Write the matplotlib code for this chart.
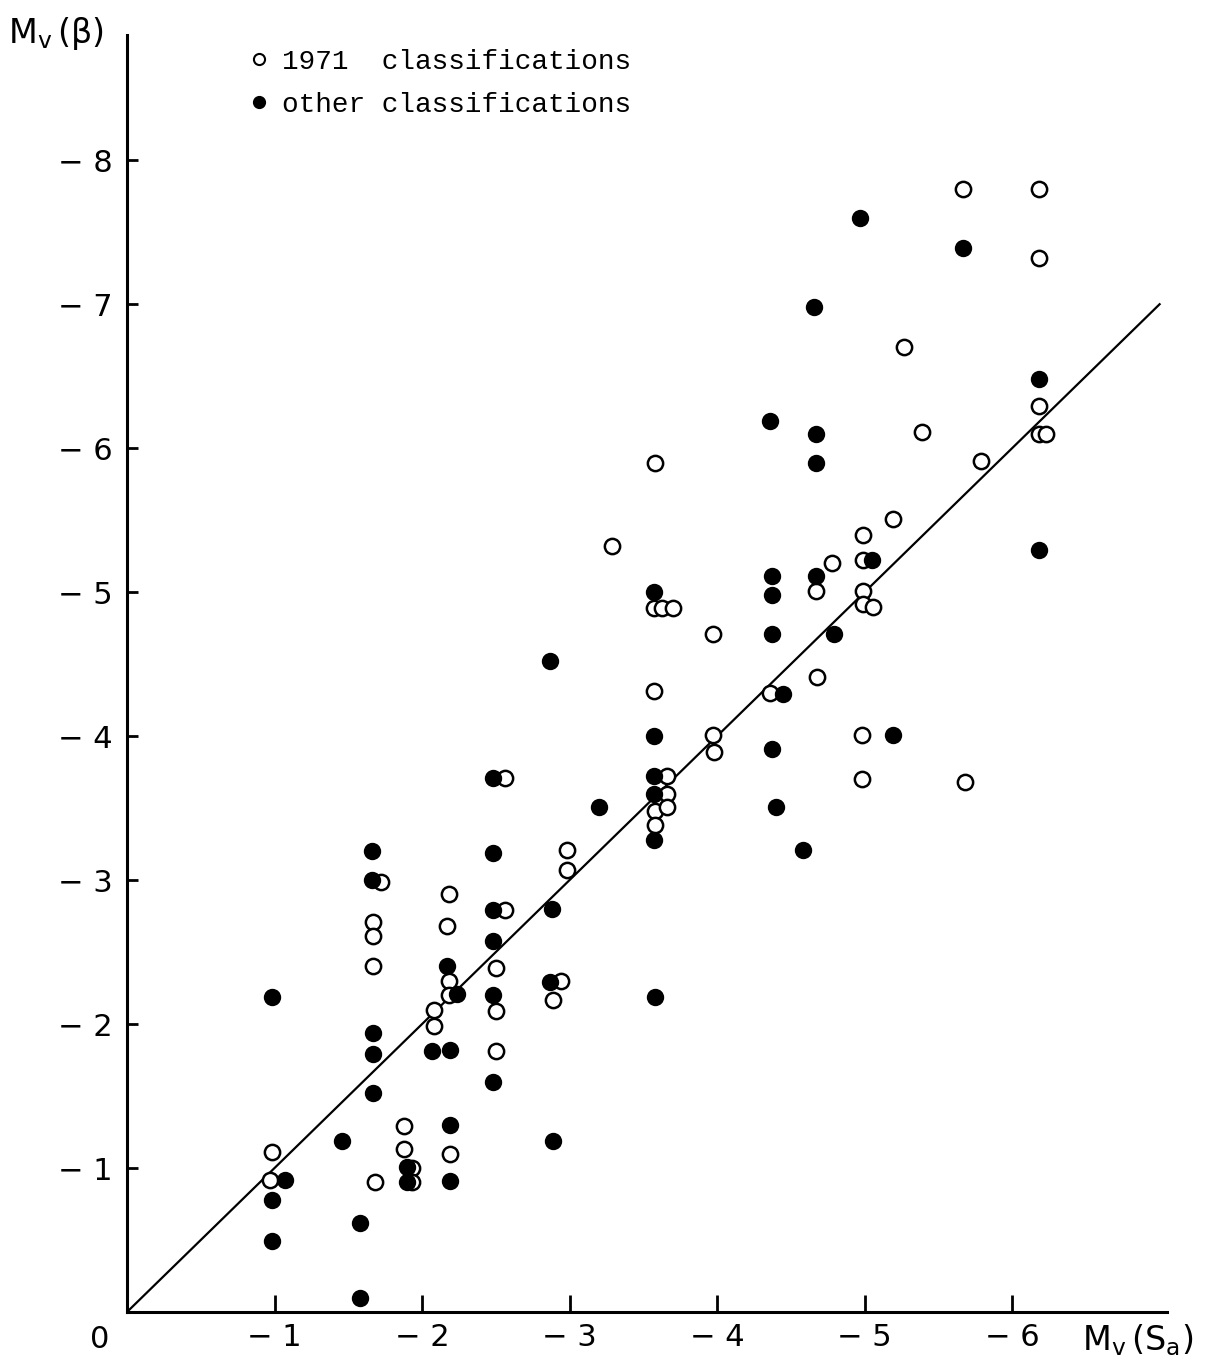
import matplotlib.pyplot as plt
from matplotlib.lines import Line2D

# M_v(S_a) vs M_v(beta)
open_x = [-0.98, -0.97, -1.68, -1.72, -1.67, -1.67, -1.67, -1.88, -1.88, -1.93,
          -1.93, -2.08, -2.08, -2.18, -2.18, -2.18, -2.17, -2.19, -2.56, -2.50,
          -2.50, -2.50, -2.98, -2.98, -2.94, -2.89, -2.56, -3.29, -3.57, -3.63,
          -3.70, -3.97, -3.57, -3.97, -3.98, -4.36, -3.66, -3.66, -3.58, -3.66,
          -3.58, -3.58, -5.67, -6.18, -6.18, -5.27, -6.18, -6.18, -6.23, -5.39,
          -5.79, -5.19, -4.99, -4.99, -4.78, -4.67, -4.99, -4.99, -5.06, -4.68,
          -4.98, -4.98, -5.68]
open_y = [-1.11, -0.92, -0.90, -2.99, -2.71, -2.61, -2.40, -1.29, -1.13, -1.00,
          -0.90, -2.10, -1.99, -2.30, -2.20, -2.90, -2.68, -1.10, -2.79, -2.39,
          -2.09, -1.81, -3.21, -3.07, -2.30, -2.17, -3.71, -5.32, -4.89, -4.89,
          -4.89, -4.71, -4.31, -4.01, -3.89, -4.30, -3.72, -3.60, -3.48, -3.51,
          -3.38, -5.90, -7.80, -7.80, -7.32, -6.70, -6.29, -6.10, -6.10, -6.11,
          -5.91, -5.51, -5.40, -5.22, -5.20, -5.01, -5.01, -4.92, -4.90, -4.41,
          -4.01, -3.70, -3.68]

filled_x = [-0.98, -1.07, -0.98, -0.98, -1.46, -1.58, -1.58, -1.66, -1.66, -1.67,
            -1.67, -1.67, -1.90, -1.90, -2.19, -2.19, -2.89, -2.07, -2.19, -2.17,
            -2.24, -2.48, -2.48, -2.48, -2.48, -2.48, -2.88, -2.87, -2.48, -3.20,
            -2.87, -3.57, -3.57, -3.57, -3.57, -3.57, -3.58, -4.37, -4.37, -4.37,
            -4.45, -4.37, -4.40, -4.58, -4.97, -5.67, -4.66, -6.18, -4.36, -4.67,
            -4.67, -6.18, -5.05, -4.67, -4.79, -5.19]
filled_y = [-2.19, -0.92, -0.78, -0.49, -1.19, -0.62, -0.10, -3.20, -3.00, -1.94,
            -1.79, -1.52, -1.01, -0.90, -1.30, -0.91, -1.19, -1.81, -1.82, -2.40,
            -2.21, -3.19, -2.79, -2.58, -2.20, -1.60, -2.80, -2.29, -3.71, -3.51,
            -4.52, -5.00, -4.00, -3.72, -3.60, -3.28, -2.19, -5.11, -4.98, -4.71,
            -4.29, -3.91, -3.51, -3.21, -7.60, -7.39, -6.98, -6.48, -6.19, -6.10,
            -5.90, -5.29, -5.22, -5.11, -4.71, -4.01]

line_x = [0, -7]
line_y = [0, -7]

x_ticks = [-1, -2, -3, -4, -5, -6]
y_ticks = [-1, -2, -3, -4, -5, -6, -7, -8]

fig = plt.figure(figsize=(12.06, 13.67), dpi=100)
ax = fig.add_axes([127 / 1206, 55 / 1367, 1040 / 1206, 1277 / 1367])

ax.plot(line_x, line_y, color='black', lw=1.6, zorder=2)
ax.plot(open_x, open_y, 'o', ms=11, mfc='white', mec='black', mew=1.8,
        ls='none', zorder=3)
ax.plot(filled_x, filled_y, 'o', ms=11, mfc='black', mec='black', mew=1.5,
        ls='none', zorder=4)

ax.set_xlim(0, -7.05)
ax.set_ylim(0, -8.87)

for side in ['top', 'right']:
    ax.spines[side].set_visible(False)
for side in ['left', 'bottom']:
    ax.spines[side].set_linewidth(2.2)

ax.set_xticks(x_ticks)
ax.set_xticklabels(['\u2212 %d' % abs(v) for v in x_ticks])
ax.set_yticks(y_ticks)
ax.set_yticklabels(['\u2212 %d' % abs(v) for v in y_ticks])
ax.tick_params(axis='x', direction='in', length=12, width=2, labelsize=22, pad=8)
ax.tick_params(axis='y', direction='in', length=8, width=2, labelsize=22, pad=10)

# origin label and axis titles
fig.text(100 / 1206, 1 - 1340 / 1367, '0', fontsize=22, ha='center', va='center')
fig.text(8 / 1206, 1 - 34 / 1367, r'$\mathrm{M_v\,(\beta)}$', fontsize=24,
         ha='left', va='center')
fig.text(1082 / 1206, 1 - 1340 / 1367, r'$\mathrm{M_v\,(S_a)}$', fontsize=24,
         ha='left', va='center')

handles = [
    Line2D([], [], marker='o', ls='none', ms=8, mfc='white', mec='black', mew=1.5),
    Line2D([], [], marker='o', ls='none', ms=8, mfc='black', mec='black', mew=1.5),
]
fig.legend(handles, ['1971  classifications', 'other classifications'],
           loc='upper left', bbox_to_anchor=(226 / 1206, 1 - 24 / 1367),
           frameon=False, handlelength=0.6, handletextpad=0.5, labelspacing=0.6,
           prop={'family': 'Liberation Mono', 'size': 20})

fig.savefig('out.png', dpi=100)
